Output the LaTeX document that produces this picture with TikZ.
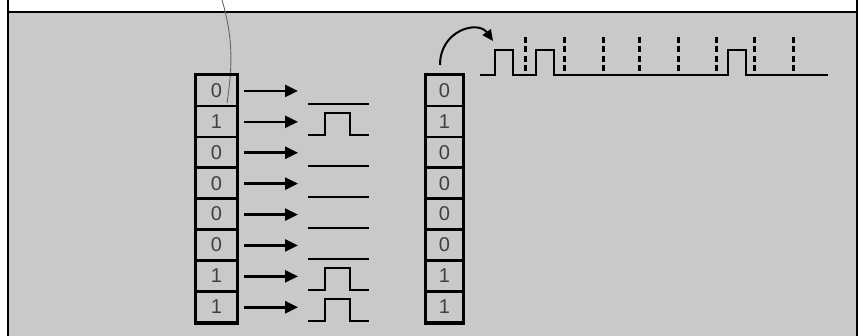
\documentclass[tikz,border=0pt]{standalone}
\usepackage{fontspec}
\setmainfont{Liberation Sans}
\usetikzlibrary{arrows.meta}
\definecolor{panel}{gray}{0.79}
\tikzset{
  cell/.style={draw=black, line width=2.4pt, minimum height=31pt, inner sep=0pt,
    font=\fontsize{20}{20}\selectfont, text=black!75},
  lcell/.style={cell, minimum width=41pt},
  rcell/.style={cell, minimum width=37pt},
  bitarrow/.style={line width=2.6pt, -{Triangle[length=13pt,width=12pt]}},
  wave/.style={line width=2.6pt, line join=miter},
  tick/.style={line width=3pt, dash pattern=on 6pt off 3.5pt},
}
\begin{document}
\begin{tikzpicture}[x=1pt,y=-1pt]
\useasboundingbox (0,0) rectangle (861,336);
% panel
\fill[panel] (8,12) rectangle (857,336);
\draw[line width=2.6pt] (8,0) -- (8,336);
\draw[line width=2.6pt] (857,0) -- (857,336);
\draw[line width=2.6pt] (8,12) -- (857,12);
% leader line
\coordinate (lead) at (222,0);
\coordinate (leadend) at (227,103);
\draw[black!60, line width=0.9pt] (lead) .. controls (234,40) and (232,70) .. (leadend);
% registers
\foreach \b [count=\i] in {0,1,0,0,0,0,1,1} {
  \pgfmathsetmacro{\yc}{75+30.9*(\i-0.5)}
  \node[lcell] (L\i) at (216.5,\yc) {\b};
  \node[rcell] (R\i) at (444.5,\yc) {\b};
  \coordinate (A\i) at (244,\yc+0.5);
  \coordinate (B\i) at (298,\yc+0.5);
  \draw[bitarrow] (A\i) -- (B\i);
}
\draw[line width=2.4pt] (L1.north west) rectangle (L8.south east);
\draw[line width=2.4pt] (R1.north west) rectangle (R8.south east);
% waveforms per bit
\foreach \b [count=\i] in {0,1,0,0,0,0,1,1} {
  \pgfmathsetmacro{\yb}{104+31*(\i-1)}
  \ifnum\b=0
    \draw[wave] (308,\yb) -- (369,\yb);
  \else
    \draw[wave] (308,\yb) -- (325,\yb) -- (325,\yb-22) -- (350,\yb-22) -- (350,\yb) -- (369,\yb);
  \fi
}
% serial output
\coordinate (outstart) at (440,65);
\coordinate (outend) at (493,41);
\draw[line width=2pt, -{Triangle[length=11pt,width=10pt]}] (outstart) .. controls (440,30) and (478,20) .. (outend);
\foreach \x in {525,564,603,639,678,716,754,793}
  \draw[tick] (\x,37) -- (\x,75);
\draw[wave] (480,75) -- (495,75) -- (495,50) -- (513,50) -- (513,75) -- (536,75) -- (536,50) -- (554,50) -- (554,75)
  -- (728,75) -- (728,50) -- (746,50) -- (746,75) -- (828,75);
\end{tikzpicture}
\end{document}
